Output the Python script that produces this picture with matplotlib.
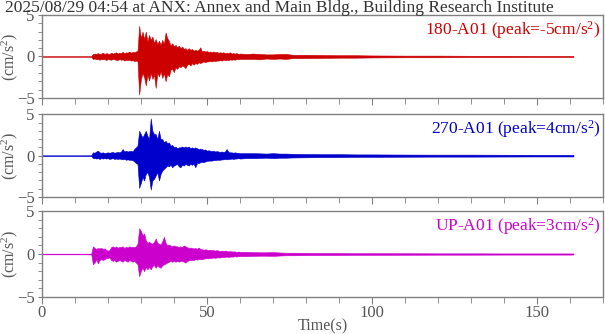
import numpy as np
import matplotlib
matplotlib.use("Agg")
import matplotlib.pyplot as plt
from matplotlib.ticker import MultipleLocator

plt.rcParams['font.family'] = ['Liberation Serif', 'DejaVu Serif']
plt.rcParams['mathtext.fontset'] = 'custom'
plt.rcParams['mathtext.rm'] = 'Liberation Serif'
plt.rcParams['mathtext.it'] = 'Liberation Serif:italic'

TITLE = "2025/08/29 04:54 at ANX: Annex and Main Bldg., Building Research Institute"
channels = ["180-A01", "270-A01", "UP-A01"]
peaks = [-5, 4, 3]
colors = ["#cc0000", "#0000cc", "#cc00cc"]

# sample times of the envelope (s): quiet part, 0.5 s steps through the shaking, then the coda
t_pre = [0.0, 14.5]
t_main = np.arange(15.0, 60.01, 0.5)
t_coda = [62, 64, 66, 68, 70, 72, 74, 76, 80, 85, 90, 95, 100, 110, 120, 130, 140, 150, 160, 161]
t = np.concatenate([t_pre, t_main, t_coda])

# upper / lower peaks of the trace (cm/s^2)
ns_hi = [0.04, 0.04,
         0.05, 0.3, 0.35, 0.3, 0.4, 0.3, 0.35, 0.45, 0.3, 0.4,
         0.35, 0.3, 0.45, 0.35, 0.4, 0.5, 0.35, 0.45, 0.4, 0.55,
         0.4, 0.5, 0.45, 0.6, 0.45, 0.55, 0.5, 0.6, 0.7, 3.7,
         2.2, 3.0, 2.1, 3.0, 1.8, 2.6, 2.0, 2.4, 1.6, 2.1,
         1.5, 1.9, 1.4, 2.0, 1.5, 2.9, 2.2, 1.9, 1.3, 1.6,
         1.2, 1.4, 1.1, 1.3, 1.0, 1.2, 0.9, 1.0, 0.8, 1.0,
         0.8, 0.9, 0.7, 0.8, 0.7, 0.8, 1.1, 0.6, 0.7, 0.6,
         0.65, 0.55, 0.6, 0.5, 0.6, 0.5, 0.55, 0.45, 0.5, 0.45,
         0.5, 0.4, 0.45, 0.4, 0.5, 0.35, 0.4, 0.35, 0.4, 0.3,
         0.35,
         0.3, 0.35, 0.3, 0.25, 0.25, 0.3, 0.3, 0.2, 0.2, 0.18,
         0.15, 0.15, 0.12, 0.1, 0.1, 0.08, 0.08, 0.07, 0.07, 0.06]
ns_lo = [-0.04, -0.04,
         -0.05, -0.3, -0.25, -0.35, -0.3, -0.4, -0.3, -0.35, -0.3, -0.45,
         -0.3, -0.35, -0.4, -0.3, -0.35, -0.4, -0.45, -0.3, -0.4, -0.35,
         -0.5, -0.4, -0.45, -0.4, -0.5, -0.45, -0.55, -0.5, -0.6, -4.6,
         -2.8, -2.0, -2.5, -3.5, -2.2, -2.9, -2.0, -2.7, -2.2, -3.8,
         -2.0, -2.4, -1.8, -2.6, -2.0, -3.0, -2.1, -2.4, -1.6, -1.5,
         -1.9, -1.3, -1.5, -1.2, -1.3, -1.1, -1.2, -1.4, -1.0, -0.9,
         -1.1, -0.8, -1.0, -0.8, -0.9, -0.7, -0.8, -0.7, -0.6, -0.7,
         -0.6, -0.6, -0.55, -0.6, -0.5, -0.55, -0.5, -0.5, -0.45, -0.5,
         -0.4, -0.45, -0.4, -0.45, -0.35, -0.4, -0.35, -0.4, -0.3, -0.35,
         -0.3,
         -0.3, -0.3, -0.35, -0.25, -0.3, -0.25, -0.3, -0.2, -0.2, -0.18,
         -0.15, -0.15, -0.12, -0.1, -0.1, -0.08, -0.08, -0.07, -0.07, -0.06]

ew_hi = [0.04, 0.04,
         0.05, 0.4, 0.35, 0.5, 0.6, 0.4, 0.35, 0.4, 0.3, 0.35,
         0.4, 0.35, 0.4, 0.45, 0.35, 0.4, 0.45, 0.4, 0.5, 0.8,
         0.5, 0.6, 0.5, 0.55, 0.6, 0.5, 0.8, 1.0, 1.2, 3.0,
         2.6, 2.2, 2.6, 3.0, 2.4, 2.0, 4.5, 3.0, 2.6, 2.6,
         2.0, 3.0, 2.0, 2.0, 1.6, 1.8, 1.5, 1.6, 1.2, 1.3,
         1.0, 1.1, 0.9, 1.0, 1.0, 1.1, 1.0, 1.1, 1.0, 1.1,
         0.9, 1.0, 0.9, 1.0, 0.9, 0.8, 0.85, 0.8, 0.7, 0.75,
         0.6, 0.65, 0.6, 0.55, 0.6, 0.5, 0.55, 0.5, 0.45, 0.5,
         0.45, 0.5, 0.8, 0.45, 0.4, 0.4, 0.35, 0.4, 0.35, 0.35,
         0.3,
         0.3, 0.3, 0.28, 0.25, 0.3, 0.25, 0.25, 0.22, 0.2, 0.18,
         0.18, 0.15, 0.15, 0.13, 0.12, 0.12, 0.11, 0.1, 0.1, 0.1]
ew_lo = [-0.04, -0.04,
         -0.05, -0.3, -0.3, -0.35, -0.3, -0.4, -0.3, -0.35, -0.3, -0.35,
         -0.3, -0.4, -0.35, -0.3, -0.4, -0.35, -0.4, -0.35, -0.4, -0.45,
         -0.4, -0.5, -0.45, -0.5, -0.5, -0.55, -0.7, -0.9, -1.0, -3.9,
         -3.3, -2.6, -3.0, -2.2, -2.0, -2.6, -4.1, -3.0, -2.8, -2.4,
         -2.0, -3.0, -2.2, -1.8, -1.6, -1.4, -1.2, -1.3, -1.1, -1.4,
         -1.2, -1.1, -1.0, -1.3, -1.4, -1.1, -1.2, -1.0, -1.1, -1.2,
         -1.0, -1.1, -1.0, -1.4, -0.9, -0.9, -0.8, -0.75, -0.8, -0.7,
         -0.65, -0.6, -0.6, -0.6, -0.55, -0.55, -0.5, -0.5, -0.5, -0.45,
         -0.45, -0.4, -0.45, -0.4, -0.4, -0.35, -0.4, -0.35, -0.35, -0.3,
         -0.35,
         -0.3, -0.3, -0.28, -0.25, -0.3, -0.25, -0.25, -0.22, -0.2, -0.18,
         -0.18, -0.15, -0.15, -0.13, -0.12, -0.12, -0.11, -0.1, -0.1, -0.1]

ud_hi = [0.04, 0.04,
         0.05, 0.9, 0.7, 0.6, 0.7, 0.65, 0.7, 0.6, 0.65, 0.5,
         0.4, 0.45, 0.8, 0.9, 0.75, 0.9, 0.7, 0.85, 0.8, 0.9,
         0.7, 0.85, 0.75, 0.9, 0.8, 0.85, 0.8, 0.9, 1.2, 3.0,
         2.7, 2.2, 2.4, 1.6, 1.3, 1.4, 1.3, 1.2, 1.4, 1.8,
         1.3, 1.2, 1.1, 1.5, 2.0, 1.3, 1.0, 1.1, 1.0, 0.9,
         1.0, 0.9, 0.9, 0.8, 0.9, 0.8, 1.0, 0.9, 0.8, 0.7,
         0.75, 0.7, 0.65, 0.7, 0.6, 0.75, 0.6, 0.55, 0.5, 0.55,
         0.5, 0.45, 0.5, 0.45, 0.45, 0.4, 0.45, 0.4, 0.35, 0.4,
         0.35, 0.4, 0.35, 0.3, 0.35, 0.3, 0.3, 0.3, 0.25, 0.3,
         0.25,
         0.25, 0.22, 0.2, 0.2, 0.22, 0.18, 0.15, 0.15, 0.13, 0.12,
         0.12, 0.1, 0.1, 0.09, 0.08, 0.08, 0.07, 0.07, 0.07, 0.06]
ud_lo = [-0.04, -0.04,
         -0.05, -1.2, -1.0, -0.6, -1.1, -0.7, -0.6, -0.7, -0.6, -0.5,
         -0.45, -0.4, -0.7, -0.8, -0.7, -0.9, -0.8, -0.7, -0.8, -0.9,
         -0.7, -0.8, -0.9, -0.7, -0.8, -0.9, -0.8, -1.0, -1.2, -2.6,
         -2.0, -1.6, -2.0, -1.5, -1.8, -1.5, -1.8, -1.4, -1.3, -1.6,
         -1.3, -1.5, -1.6, -1.3, -1.2, -1.1, -1.0, -0.9, -0.8, -0.9,
         -0.8, -0.9, -0.8, -0.9, -0.8, -0.8, -0.9, -1.0, -0.8, -0.75,
         -0.7, -0.7, -0.7, -0.6, -0.65, -0.6, -0.6, -0.6, -0.55, -0.5,
         -0.5, -0.5, -0.45, -0.45, -0.4, -0.45, -0.4, -0.4, -0.4, -0.35,
         -0.35, -0.35, -0.3, -0.35, -0.3, -0.3, -0.3, -0.25, -0.3, -0.25,
         -0.25,
         -0.25, -0.22, -0.2, -0.2, -0.22, -0.18, -0.15, -0.15, -0.13, -0.12,
         -0.12, -0.1, -0.1, -0.09, -0.08, -0.08, -0.07, -0.07, -0.07, -0.06]

highs = [ns_hi, ew_hi, ud_hi]
lows = [ns_lo, ew_lo, ud_lo]

grey = "#808080"
textgrey = "#555555"
fig = plt.figure(figsize=(6.05, 3.34), dpi=100)
boxes = [[0.069, 0.707, 0.928, 0.248],
         [0.069, 0.410, 0.928, 0.248],
         [0.069, 0.111, 0.928, 0.257]]

for i in range(3):
    ax = fig.add_axes(boxes[i])
    ax.fill_between(t, lows[i], highs[i], color=colors[i], lw=0.4)
    ax.set_xlim(0, 170)
    ax.set_ylim(-5, 5)
    ax.set_yticks([-5, 0, 5])
    ax.xaxis.set_major_locator(MultipleLocator(50))
    ax.xaxis.set_minor_locator(MultipleLocator(10))
    ax.yaxis.set_minor_locator(MultipleLocator(1))
    ax.tick_params(axis='both', which='both', direction='out', color=grey,
                   labelcolor=textgrey, labelsize=12, pad=1)
    ax.tick_params(axis='x', which='major', length=5)
    ax.tick_params(axis='x', which='minor', length=4)
    ax.tick_params(axis='y', which='both', length=3, pad=2)
    for s in ax.spines.values():
        s.set_color(grey)
        s.set_linewidth(1.0)
    if i < 2:
        ax.tick_params(axis='x', labelbottom=False)
    else:
        ax.set_xlabel("Time(s)", color=textgrey, fontsize=11.5, labelpad=-2)
    ax.set_ylabel(r"(cm/s$^{2}$)", color=textgrey, fontsize=11.5)
    ax.yaxis.set_label_coords(-0.039, 0.5)
    ax.text(0.995, 0.95, channels[i] + r" (peak=%dcm/s$^{2}$)" % peaks[i],
            transform=ax.transAxes, ha='right', va='top', color=colors[i], fontsize=12.5)

fig.text(0.008, 1.0, TITLE, ha='left', va='top', color="#333333", fontsize=12.5)

fig.savefig("out.png", dpi=100)
